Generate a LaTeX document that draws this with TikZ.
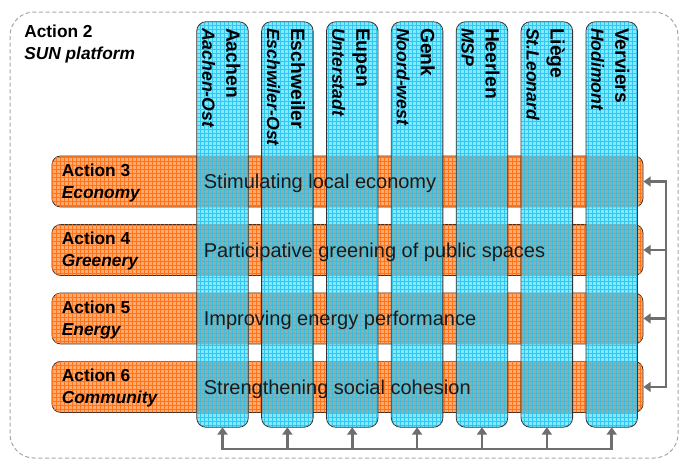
\documentclass[tikz,border=0pt]{standalone}
\usepackage{fontspec}
\setmainfont{Liberation Sans}
\usepackage{xcolor}
\usepackage{tikz}
\usetikzlibrary{arrows.meta,patterns}
\usetikzlibrary{positioning}

\definecolor{orfill}{HTML}{FFAA70}
\definecolor{orline}{HTML}{FF7418}
\definecolor{blfill}{HTML}{84E8FF}
\definecolor{blline}{HTML}{30C8F0}
\definecolor{bothfill}{HTML}{86B2B2}
\definecolor{bothline}{HTML}{3ABDE0}
\definecolor{arrgray}{HTML}{6E6E6E}

\begin{document}
\begin{tikzpicture}[x=0.75pt, y=-0.75pt, node distance=12.5pt]
\tikzstyle{action} = [rectangle, rounded corners=6.5pt, draw=black!80, line width=0.6pt, fill=orfill, postaction={pattern=grid, pattern color=orline}, minimum width=443.25pt, minimum height=38.25pt, inner sep=0pt]
\tikzstyle{city} = [rectangle, rounded corners=7pt, fill=blfill, postaction={pattern=grid, pattern color=blline}, minimum width=38.25pt, minimum height=303.75pt, inner sep=0pt]
\tikzstyle{cityframe} = [draw=black!80, line width=0.6pt, rounded corners=7pt]
\tikzstyle{both} = [fill=bothfill, postaction={pattern=grid, pattern color=bothline}]
\tikzstyle{actlbl} = [font=\fontsize{13}{16.5}\selectfont\bfseries, align=left, inner sep=0pt]
\tikzstyle{citylbl} = [font=\fontsize{14.5}{18}\selectfont\bfseries, rotate=-90, anchor=west, align=left, inner sep=0pt]
\tikzstyle{goal} = [font=\fontsize{15}{18}\selectfont, text=black!90, inner sep=0pt, text height=11pt, text depth=0pt, anchor=west]
\tikzstyle{link} = [draw=arrgray, line width=2pt, -{Triangle[length=5.5pt, width=7.5pt]}]
\tikzstyle{bus} = [draw=arrgray, line width=2pt, line cap=rect]
\newcommand{\sub}[1]{\fontsize{13.25}{18}\selectfont\itshape #1}

\useasboundingbox (0,0) rectangle (680,461);
\draw [black!35, line width=0.75pt, dash pattern=on 3pt off 2pt, rounded corners=18pt] (10,12) rectangle (678,458);

% SUN platform
\node (sun) [actlbl, anchor=north west] at (24,25) {Action 2\\\textit{SUN platform}};

% actions (rows)
\node (eco) [action] at (347.5,181.5) {};
\node (gre) [action, below = of eco] {};
\node (ene) [action, below = of gre] {};
\node (com) [action, below = of ene] {};

% cities (columns)
\node (aac) [city] at (222.5,224.5) {};
\node (esw) [city, right = 10pt of aac] {};
\node (eup) [city, right = 10pt of esw] {};
\node (gen) [city, right = 10pt of eup] {};
\node (hee) [city, right = 10pt of gen] {};
\node (lie) [city, right = 10pt of hee] {};
\node (ver) [city, right = 10pt of lie] {};

% where actions meet cities
\begin{scope}
\clip (eco.north west) rectangle (eco.south east) (gre.north west) rectangle (gre.south east)
      (ene.north west) rectangle (ene.south east) (com.north west) rectangle (com.south east);
\path [both] (aac.north west) rectangle (aac.south east) (esw.north west) rectangle (esw.south east)
      (eup.north west) rectangle (eup.south east) (gen.north west) rectangle (gen.south east)
      (hee.north west) rectangle (hee.south east) (lie.north west) rectangle (lie.south east)
      (ver.north west) rectangle (ver.south east);
\end{scope}
\draw [cityframe] (aac.north west) rectangle (aac.south east);
\draw [cityframe] (esw.north west) rectangle (esw.south east);
\draw [cityframe] (eup.north west) rectangle (eup.south east);
\draw [cityframe] (gen.north west) rectangle (gen.south east);
\draw [cityframe] (hee.north west) rectangle (hee.south east);
\draw [cityframe] (lie.north west) rectangle (lie.south east);
\draw [cityframe] (ver.north west) rectangle (ver.south east);

% labels
\node (ecot) [actlbl, anchor=west] at ([xshift=7.5pt, yshift=-1pt]eco.west) {Action 3\\\textit{Economy}};
\node (gret) [actlbl, anchor=west] at ([xshift=7.5pt, yshift=-1pt]gre.west) {Action 4\\\textit{Greenery}};
\node (enet) [actlbl, anchor=west] at ([xshift=7.5pt, yshift=-1pt]ene.west) {Action 5\\\textit{Energy}};
\node (comt) [actlbl, anchor=west] at ([xshift=7.5pt, yshift=-1pt]com.west) {Action 6\\\textit{Community}};

\node (ecog) [goal] at ([xshift=114pt]eco.west) {Stimulating local economy};
\node (greg) [goal] at ([xshift=114pt]gre.west) {Participative greening of public spaces};
\node (eneg) [goal] at ([xshift=114pt]ene.west) {Improving energy performance};
\node (comg) [goal] at ([xshift=114pt]com.west) {Strengthening social cohesion};

\node (aact) [citylbl] at ([xshift=-1pt, yshift=-4.5pt]aac.north) {Aachen\\\sub{Aachen-Ost}};
\node (eswt) [citylbl] at ([xshift=-1pt, yshift=-4.5pt]esw.north) {Eschweiler\\\sub{Eschwiler-Ost}};
\node (eupt) [citylbl] at ([xshift=-1pt, yshift=-4.5pt]eup.north) {Eupen\\\sub{Unterstadt}};
\node (gent) [citylbl] at ([xshift=-1pt, yshift=-4.5pt]gen.north) {Genk\\\sub{Noord-west}};
\node (heet) [citylbl] at ([xshift=-1pt, yshift=-4.5pt]hee.north) {Heerlen\\\sub{MSP}};
\node (liet) [citylbl] at ([xshift=-1pt, yshift=-4.5pt]lie.north) {Liège\\\sub{St.Leonard}};
\node (vert) [citylbl] at ([xshift=-1pt, yshift=-4.5pt]ver.north) {Verviers\\\sub{Hodimont}};

% feedback arrows
\coordinate (rbus) at (666,0);
\draw [bus] (rbus |- eco.east) -- (rbus |- com.east);
\draw [link] (rbus |- eco.east) -- (eco.east);
\draw [link] (rbus |- gre.east) -- (gre.east);
\draw [link] (rbus |- ene.east) -- (ene.east);
\draw [link] (rbus |- com.east) -- (com.east);

\coordinate (bbus) at (0,449);
\draw [bus] (bbus -| aac.south) -- (bbus -| ver.south);
\draw [link] (bbus -| aac.south) -- (aac.south);
\draw [link] (bbus -| esw.south) -- (esw.south);
\draw [link] (bbus -| eup.south) -- (eup.south);
\draw [link] (bbus -| gen.south) -- (gen.south);
\draw [link] (bbus -| hee.south) -- (hee.south);
\draw [link] (bbus -| lie.south) -- (lie.south);
\draw [link] (bbus -| ver.south) -- (ver.south);
\end{tikzpicture}
\end{document}
